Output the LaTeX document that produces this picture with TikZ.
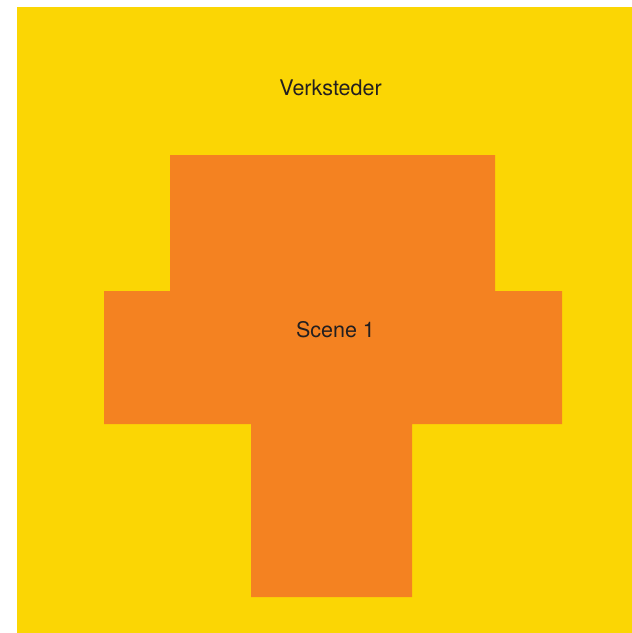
\documentclass[tikz,border=0pt]{standalone}
\usepackage{fontspec}
\setmainfont{TeX Gyre Heros}
\usepackage{xcolor}
\definecolor{myyellow}{RGB}{251, 214, 4}
\definecolor{myorange}{RGB}{244, 130, 33}
\definecolor{mytext}{RGB}{35, 31, 32}

\begin{document}
\begin{tikzpicture}[x=1pt, y=-1pt]
\tikzset{
 lbl/.style={text=mytext, font=\fontsize{21.5}{25}\selectfont, inner sep=0pt}
}
 \useasboundingbox (0,0) rectangle (632,633);

 \coordinate (Y1) at (17,7);
 \coordinate (Y2) at (632,633);

 \coordinate (P1) at (170,155); %top block
 \coordinate (P2) at (495,155);
 \coordinate (P3) at (495,291);
 \coordinate (P4) at (562,291);
 \coordinate (P5) at (562,424);
 \coordinate (P6) at (412,424);
 \coordinate (P7) at (412,597);
 \coordinate (P8) at (251,597);
 \coordinate (P9) at (251,424);
 \coordinate (P10) at (104,424);
 \coordinate (P11) at (104,291);
 \coordinate (P12) at (170,291);

 %workshops
 \fill[myyellow] (Y1) rectangle (Y2);

 %stage
 \fill[myorange] (P1) -- (P2) -- (P3) -- (P4) -- (P5) -- (P6) -- (P7) -- (P8) -- (P9) -- (P10) -- (P11) -- (P12) -- cycle;

 \node[lbl] (verk) at (330.5,88) {Verksteder};
 \node[lbl] (scene) at (335.5,330) {Scene 1};
\end{tikzpicture}
\end{document}
